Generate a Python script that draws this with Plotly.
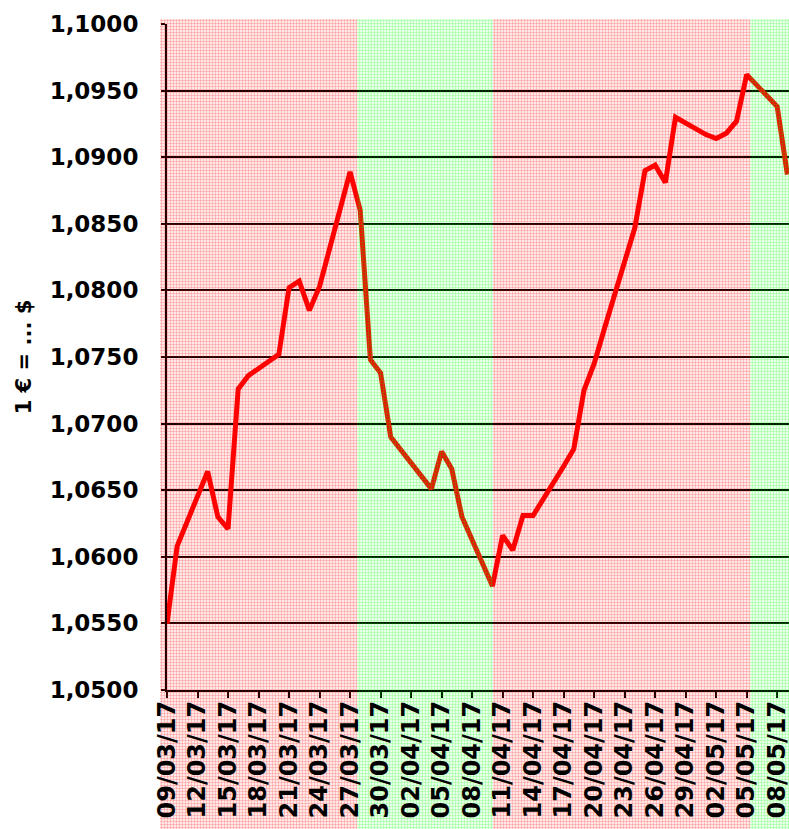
import plotly.graph_objects as go
import datetime as dt

# ---- data ----
dates = [
    "2017-03-09", "2017-03-10", "2017-03-13", "2017-03-14", "2017-03-15", "2017-03-16", "2017-03-17",
    "2017-03-20", "2017-03-21", "2017-03-22", "2017-03-23", "2017-03-24",
    "2017-03-27", "2017-03-28", "2017-03-29", "2017-03-30", "2017-03-31",
    "2017-04-03", "2017-04-04", "2017-04-05", "2017-04-06", "2017-04-07",
    "2017-04-10", "2017-04-11", "2017-04-12", "2017-04-13", "2017-04-14",
    "2017-04-17", "2017-04-18", "2017-04-19", "2017-04-20", "2017-04-21",
    "2017-04-24", "2017-04-25", "2017-04-26", "2017-04-27", "2017-04-28",
    "2017-05-01", "2017-05-02", "2017-05-03", "2017-05-04", "2017-05-05",
    "2017-05-08", "2017-05-09",
]
eur_usd = [
    1.0550, 1.0608, 1.0664, 1.0630, 1.0621, 1.0726, 1.0736,
    1.0752, 1.0802, 1.0807, 1.0785, 1.0803,
    1.0889, 1.0860, 1.0748, 1.0738, 1.0690,
    1.0660, 1.0651, 1.0679, 1.0666, 1.0630,
    1.0578, 1.0616, 1.0605, 1.0631, 1.0631,
    1.0668, 1.0681, 1.0725, 1.0745, 1.0771,
    1.0847, 1.0890, 1.0894, 1.0881, 1.0930,
    1.0917, 1.0914, 1.0918, 1.0927, 1.0962,
    1.0938, 1.0887,
]
# background bands, in days since 09/03/17
band_starts = [-0.7, 18.65, 32.08, 57.33]
band_ends = [18.65, 32.08, 57.33, 61.3]
band_colors = ["#ff0000", "#00ff00", "#ff0000", "#00ff00"]

y_title = "1 € = ... $"

# ---- layout geometry ----
W, H = 789, 829
plot_left, plot_right, plot_top, plot_bottom = 167, 789, 24, 690
band_left, band_top = 160, 19
start = dt.datetime(2017, 3, 9)
days_span = 61.16
px_per_day = (plot_right - plot_left) / days_span
end = start + dt.timedelta(days=days_span)
band_x0 = -(plot_left - band_left) / px_per_day

xdom = [plot_left / W, plot_right / W]
ydom = [(H - plot_bottom) / H, (H - plot_top) / H]

fig = go.Figure()

# main line (subplot xy)
fig.add_trace(go.Scatter(
    x=dates, y=eur_usd, mode="lines",
    line=dict(color="#ff0000", width=5),
    xaxis="x", yaxis="y", hoverinfo="skip", showlegend=False,
))

# patterned background bands, drawn on top (subplot x2y2)
fig.add_trace(go.Bar(
    x=[(s + e) / 2 for s, e in zip(band_starts, band_ends)],
    y=[1] * len(band_starts),
    width=[e - s for s, e in zip(band_starts, band_ends)],
    base=0,
    marker=dict(
        color=band_colors, line=dict(width=0),
        pattern=dict(shape=".", size=3, solidity=0.5, fillmode="replace"),
        opacity=0.36,
    ),
    xaxis="x2", yaxis="y2", hoverinfo="skip", showlegend=False,
))

# tick-label layer on top (subplot x3y3)
fig.add_trace(go.Scatter(
    x=[dates[0]], y=[eur_usd[0]], mode="markers", opacity=0,
    xaxis="x3", yaxis="y3", hoverinfo="skip", showlegend=False,
))

common_x = dict(
    type="date", range=[start, end], domain=xdom,
    tick0="2017-03-09", dtick=3 * 86400000, tickformat="%d/%m/%y",
    showgrid=False, zeroline=False,
)

fig.update_layout(
    width=W, height=H,
    margin=dict(l=0, r=0, t=0, b=0),
    paper_bgcolor="white", plot_bgcolor="rgba(0,0,0,0)",
    separators=",.",
    bargap=0,
    xaxis=dict(
        **common_x, anchor="y",
        showline=True, linecolor="black", linewidth=2,
        ticks="outside", ticklen=6, tickwidth=2, tickcolor="black",
        showticklabels=False,
    ),
    yaxis=dict(
        range=[1.05, 1.10], domain=ydom, anchor="x",
        dtick=0.005, tick0=1.05, tickformat=".4f",
        showgrid=True, gridcolor="black", gridwidth=2,
        zeroline=False,
        showline=True, linecolor="black", linewidth=2,
        ticks="outside", ticklen=4, tickwidth=2, tickcolor="black",
        ticklabelstandoff=18,
        tickfont=dict(family="DejaVu Sans", size=23, color="black", weight="bold"),
        title=dict(text=y_title, font=dict(family="DejaVu Sans", size=21,
                                           color="black", weight="bold"),
                   standoff=12),
        automargin=False,
    ),
    xaxis2=dict(range=[band_x0, days_span], domain=[band_left / W, 1],
                anchor="y2", visible=False, fixedrange=True),
    yaxis2=dict(range=[0, 1], domain=[0, (H - band_top) / H],
                anchor="x2", visible=False, fixedrange=True),
    xaxis3=dict(
        **common_x, anchor="y3",
        showline=False,
        ticks="",
        tickangle=-90,
        tickfont=dict(family="DejaVu Sans", size=24, color="black", weight="bold"),
        ticklabelstandoff=5, ticklabeloverflow="allow",
        automargin=False,
    ),
    yaxis3=dict(range=[1.05, 1.10], domain=ydom, anchor="x3",
                visible=False),
)

fig.write_html("out.html", post_script="document.body.style.margin='0';",
               config={"displayModeBar": False})
